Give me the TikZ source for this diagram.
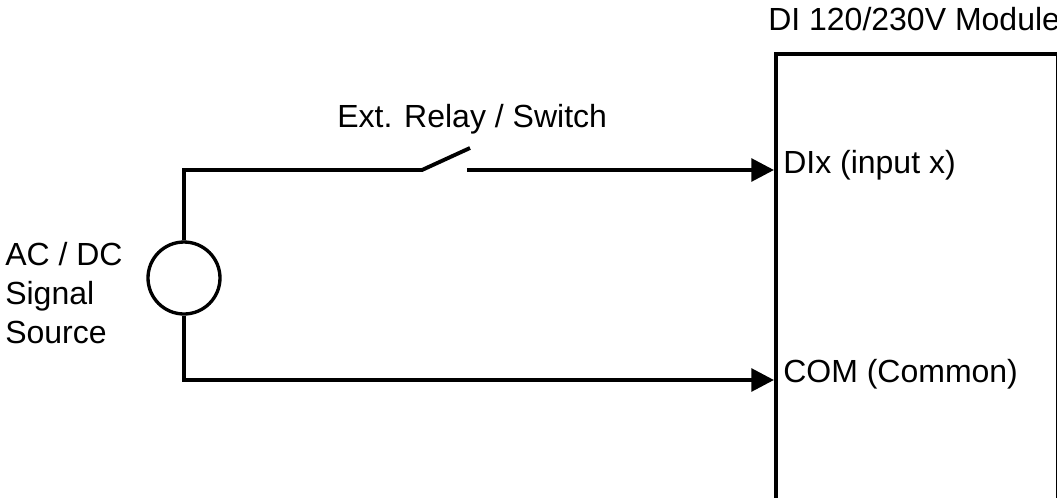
\documentclass[tikz,border=0pt]{standalone}
\usepackage{fontspec}
\setmainfont{Liberation Sans}
\usetikzlibrary{arrows.meta}
\tikzset{
  wire/.style={line width=2.9pt, line join=miter},
  sigarrow/.style={wire, -{Triangle[length=17pt,width=17pt]}},
  lbl/.style={inner sep=0pt, font=\fontsize{24}{29}\selectfont},
}
\begin{document}
\begin{tikzpicture}[x=0.75pt,y=-0.75pt]
  \clip (0,0) rectangle (1057,497);
  \useasboundingbox (0,0) rectangle (1057,497);
  % source and module
  \node[draw, line width=2.5pt, circle, minimum size=54pt, inner sep=0pt] (src) at (184,278) {};
  \node[draw, wire, anchor=north west, minimum width=211.5pt, minimum height=360pt, inner sep=0pt] (module) at (774,52) {};
  % switch contacts
  \coordinate (swL) at (422,170);
  \coordinate (swR) at (467,170);
  \coordinate (blade) at (470,148);
  % wiring
  \draw[wire] (src.north) |- (swL) -- (blade);
  \draw[sigarrow] (swR) -- (module.west |- swR);
  \draw[sigarrow] (src.south) |- (module.west |- 0,380);
  % labels
  \node[lbl, anchor=base west] (title) at (768,30) {DI 120/230V Module};
  \node[lbl, anchor=base west] (relay) at (337,127) {Ext. Relay / Switch};
  \node[lbl, anchor=base west] (dix) at (783,173) {DIx (input x)};
  \node[lbl, anchor=base west] (com) at (783,382) {COM (Common)};
  \node[lbl, anchor=base west, align=left] (srclbl) at (5,343) {AC / DC\\Signal\\Source};
\end{tikzpicture}
\end{document}
